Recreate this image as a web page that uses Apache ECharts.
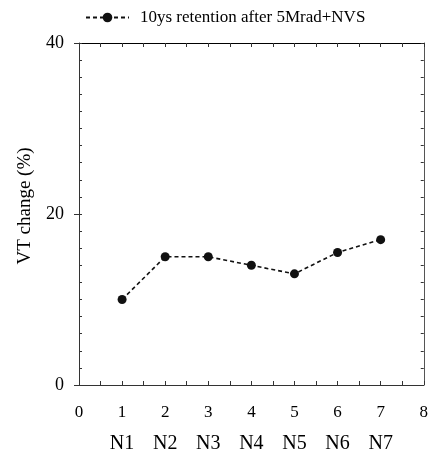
<!DOCTYPE html>
<html>
<head>
<meta charset="utf-8">
<script src="https://cdn.jsdelivr.net/npm/echarts@6/dist/echarts.min.js"></script>
<style>html,body{margin:0;padding:0;background:#fff;}#c{width:431px;height:454px;}</style>
</head>
<body>
<div id="c"></div>
<script>
var categories = ['N1', 'N2', 'N3', 'N4', 'N5', 'N6', 'N7'];
var xPositions = [1, 2, 3, 4, 5, 6, 7];
var values = [10, 15, 15, 14, 13, 15.5, 17];
var seriesName = '10ys retention after 5Mrad+NVS';
var yTickLabels = [0, 20, 40];

var FONT = 'Liberation Serif';
var chart = echarts.init(document.getElementById('c'), null, {renderer: 'canvas'});
var data = xPositions.map(function (x, i) { return [x, values[i]]; });
var axisColor = '#333';

chart.setOption({
  animation: false,
  backgroundColor: '#fff',
  grid: {left: 79, right: 2, top: 43, bottom: 69, containLabel: false},
  legend: {
    left: 80, top: 4, itemWidth: 43, itemHeight: 12, itemGap: 10,
    data: [seriesName],
    textStyle: {fontFamily: FONT, fontSize: 17, color: '#000', padding: [0, 0, 0, 6]}
  },
  xAxis: [
    {
      type: 'value', position: 'bottom', min: 0, max: 8, interval: 1,
      axisLine: {show: true, onZero: false, lineStyle: {color: axisColor, width: 1}},
      axisTick: {show: true, inside: true, length: 4, lineStyle: {color: axisColor}},
      minorTick: {show: true, splitNumber: 2, length: 4, lineStyle: {color: axisColor}},
      splitLine: {show: false},
      axisLabel: {fontFamily: FONT, fontSize: 17, color: '#000', margin: 19}
    },
    {
      type: 'value', position: 'top', min: 0, max: 8, interval: 1,
      axisLine: {show: true, onZero: false, lineStyle: {color: '#000', width: 1}},
      axisTick: {show: true, inside: true, length: 4, lineStyle: {color: axisColor}},
      minorTick: {show: true, splitNumber: 2, length: 4, lineStyle: {color: axisColor}},
      splitLine: {show: false},
      axisLabel: {show: false}
    },
    {
      type: 'value', position: 'bottom', offset: 49, min: 0, max: 8, interval: 1,
      axisLine: {show: false}, axisTick: {show: false}, splitLine: {show: false},
      axisLabel: {
        fontFamily: FONT, fontSize: 20, color: '#000', margin: 0,
        formatter: function (v) {
          var i = xPositions.indexOf(v);
          return i >= 0 ? categories[i] : '';
        }
      }
    }
  ],
  yAxis: [
    {
      type: 'value', position: 'left', min: 0, max: 40, interval: 20,
      name: 'VT change (%)', nameLocation: 'middle', nameGap: 44,
      nameTextStyle: {fontFamily: FONT, fontSize: 19, color: '#000', padding: [0, 0, 0, 16]},
      axisLine: {show: true, onZero: false, lineStyle: {color: axisColor, width: 1}},
      axisTick: {show: true, inside: false, length: 5, lineStyle: {color: axisColor}},
      splitLine: {show: false},
      axisLabel: {fontFamily: FONT, fontSize: 18, color: '#000', margin: 15,
        formatter: function (v) { return yTickLabels.indexOf(v) >= 0 ? String(v) : ''; }}
    },
    {
      type: 'value', position: 'left', min: 0, max: 40, interval: 2,
      axisLine: {show: false},
      axisTick: {show: true, inside: true, length: 3, lineStyle: {color: axisColor}},
      splitLine: {show: false}, axisLabel: {show: false}
    },
    {
      type: 'value', position: 'right', min: 0, max: 40, interval: 2,
      axisLine: {show: true, onZero: false, lineStyle: {color: '#555', width: 1}},
      axisTick: {show: true, inside: true, length: 3, lineStyle: {color: axisColor}},
      splitLine: {show: false}, axisLabel: {show: false}
    }
  ],
  series: [{
    name: seriesName, type: 'line', xAxisIndex: 0, yAxisIndex: 0,
    data: data,
    symbol: 'circle', symbolSize: 9,
    itemStyle: {color: '#111'},
    lineStyle: {color: '#111', width: 1.6, type: [4, 3]}
  }]
});
</script>
</body>
</html>
